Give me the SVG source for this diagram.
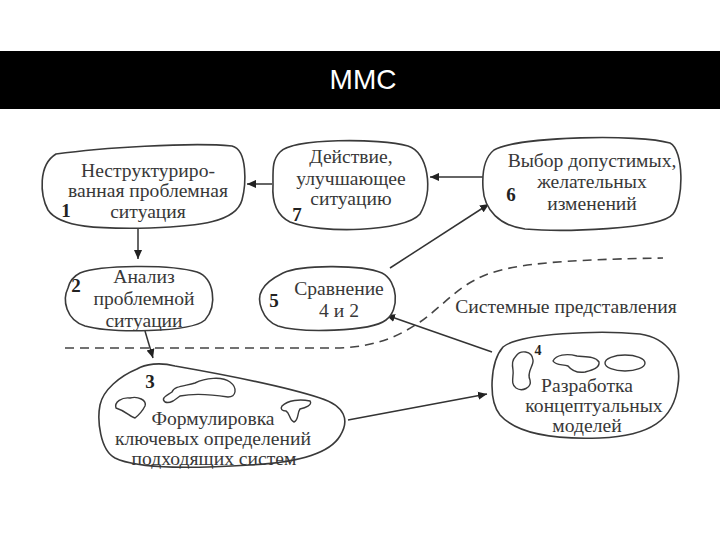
<svg xmlns="http://www.w3.org/2000/svg" width="720" height="540" viewBox="0 0 720 540">
<defs>
<style>
.blob{fill:#fff;stroke:#3a3a3a;stroke-width:1.6;stroke-linejoin:round}
.inner{fill:none;stroke:#3a3a3a;stroke-width:1.4}
.t{font-family:"Liberation Serif","DejaVu Serif",serif;font-size:19.6px;fill:#383838;text-anchor:middle}
.n{font-family:"Liberation Serif","DejaVu Serif",serif;font-size:19px;font-weight:bold;fill:#222;text-anchor:middle}
.c{fill:none;stroke:#333;stroke-width:1.5}
.dash{fill:none;stroke:#444;stroke-width:1.6;stroke-dasharray:9 6}
</style>
<marker id="ah" viewBox="0 0 10 10" refX="10" refY="5" markerWidth="9" markerHeight="9" markerUnits="userSpaceOnUse" orient="auto">
<path d="M0,0.5 L10,5 L0,9.5 Z" fill="#222"/>
</marker>
</defs>
<rect width="720" height="540" fill="#fff"/>
<g id="title">
<rect x="0" y="51" width="720" height="58" fill="#000"/>
<text x="363" y="89" font-family="Liberation Sans, Arial, sans-serif" font-size="28" fill="#fff" text-anchor="middle">ММС</text>
</g>
<g id="connectors">
<path class="dash" d="M65,348 L340,348 C380,346 400,335 420,322 C440,308 455,290 475,280 C500,266 540,260 663,258"/>
<line class="c" x1="138" y1="229" x2="138" y2="259" marker-end="url(#ah)"/>
<line class="c" x1="145" y1="331" x2="153" y2="358" marker-end="url(#ah)"/>
<line class="c" x1="348" y1="420" x2="487" y2="394" marker-end="url(#ah)"/>
<line class="c" x1="492" y1="352" x2="386" y2="315" marker-end="url(#ah)"/>
<line class="c" x1="390" y1="268" x2="489" y2="204" marker-end="url(#ah)"/>
<line class="c" x1="483" y1="177" x2="430" y2="177" marker-end="url(#ah)"/>
<line class="c" x1="272" y1="184" x2="247" y2="184" marker-end="url(#ah)"/>
</g>
<g id="node1">
<path class="blob" d="M56,154 C100,148 190,142 232,146 C248,150 246,185 242,200 C236,222 200,226 150,228 C100,229 60,228 48,210 C40,195 38,165 56,154 Z"/>
<text class="t" x="148" y="177">Неструктуриро-</text>
<text class="t" x="148" y="197">ванная проблемная</text>
<text class="t" x="148" y="218">ситуация</text>
<text class="n" x="66" y="217">1</text>
</g>
<g id="node7">
<path class="blob" d="M280,152 C292,138 380,138 408,146 C428,152 434,190 420,214 C405,232 320,234 290,222 C276,215 272,200 273,185 C273,170 272,160 280,152 Z"/>
<text class="t" x="351" y="163">Действие,</text>
<text class="t" x="351" y="185">улучшающее</text>
<text class="t" x="351" y="205">ситуацию</text>
<text class="n" x="297" y="221">7</text>
</g>
<g id="node6">
<path class="blob" d="M494,150 C520,136 640,134 670,143 C684,150 684,200 673,214 C660,230 560,232 525,229 C500,226 484,210 483,188 C482,172 484,158 494,150 Z"/>
<text class="t" x="592" y="167">Выбор допустимых,</text>
<text class="t" x="592" y="188">желательных</text>
<text class="t" x="592" y="210">изменений</text>
<text class="n" x="511" y="201">6</text>
</g>
<g id="node2">
<path class="blob" d="M80,273 C100,265 170,264 197,272 C214,278 218,305 205,320 C190,333 110,333 85,326 C66,320 62,300 68,288 C70,280 74,276 80,273 Z"/>
<text class="t" x="144" y="283">Анализ</text>
<text class="t" x="144" y="305">проблемной</text>
<text class="t" x="144" y="327">ситуации</text>
<text class="n" x="76" y="292">2</text>
</g>
<g id="node5">
<path class="blob" d="M283,273 C300,265 360,264 382,273 C398,281 400,310 386,320 C370,332 300,333 278,326 C262,320 256,300 262,290 C266,282 275,277 283,273 Z"/>
<text class="t" x="339" y="295">Сравнение</text>
<text class="t" x="339" y="317">4 и 2</text>
<text class="n" x="274" y="307">5</text>
</g>
<g id="node4">
<path class="blob" d="M503,347 C520,333 600,330 640,334 C668,338 682,360 678,385 C674,420 650,436 600,438 C550,440 515,432 500,415 C488,400 490,362 503,347 Z"/>
<path class="inner" d="M516,356 C520,350 532,350 533,360 C534,366 526,372 530,380 C532,388 522,392 516,388 C510,384 514,376 513,370 C512,364 512,360 516,356 Z"/>
<path class="inner" d="M553,361 C556,355 566,353 577,356 C585,357 595,356 599,362 C600,368 592,370 585,372 C578,373 572,371 568,366 C563,364 556,366 553,361 Z"/>
<ellipse class="inner" cx="625" cy="363" rx="20" ry="8"/>
<text class="t" x="587" y="392">Разработка</text>
<text class="t" x="594" y="412">концептуальных</text>
<text class="t" x="587" y="432">моделей</text>
<text class="n" x="538" y="355" style="font-size:14px">4</text>
</g>
<g id="node3">
<path class="blob" d="M137,369 C145,364 160,362 175,366 C215,373 280,385 320,398 C345,406 350,420 340,436 C328,456 290,463 250,465 C200,468 140,470 115,458 C100,450 97,420 100,405 C103,390 120,376 137,369 Z"/>
<path class="inner" d="M165,402 C160,398 168,395 172,392 C174,386 185,386 195,383 C205,378 222,376 230,382 C238,388 236,397 228,397 C215,395 195,393 180,396 C175,400 170,404 165,402 Z"/>
<path class="inner" d="M116,408 C114,402 122,397 130,398 C138,396 147,400 145,406 C143,410 140,414 135,418 C130,417 126,411 116,408 Z"/>
<path class="inner" d="M282,406 C288,400 300,399 310,401 C313,405 305,408 300,409 C297,413 299,420 294,422 C289,420 290,413 286,411 C282,411 280,409 282,406 Z"/>
<text class="t" x="213" y="425">Формулировка</text>
<text class="t" x="213" y="445">ключевых определений</text>
<text class="t" x="214" y="465">подходящих систем</text>
<text class="n" x="150" y="388">3</text>
</g>
<g id="label">
<text class="t" x="566" y="313">Системные представления</text>
</g>
</svg>
